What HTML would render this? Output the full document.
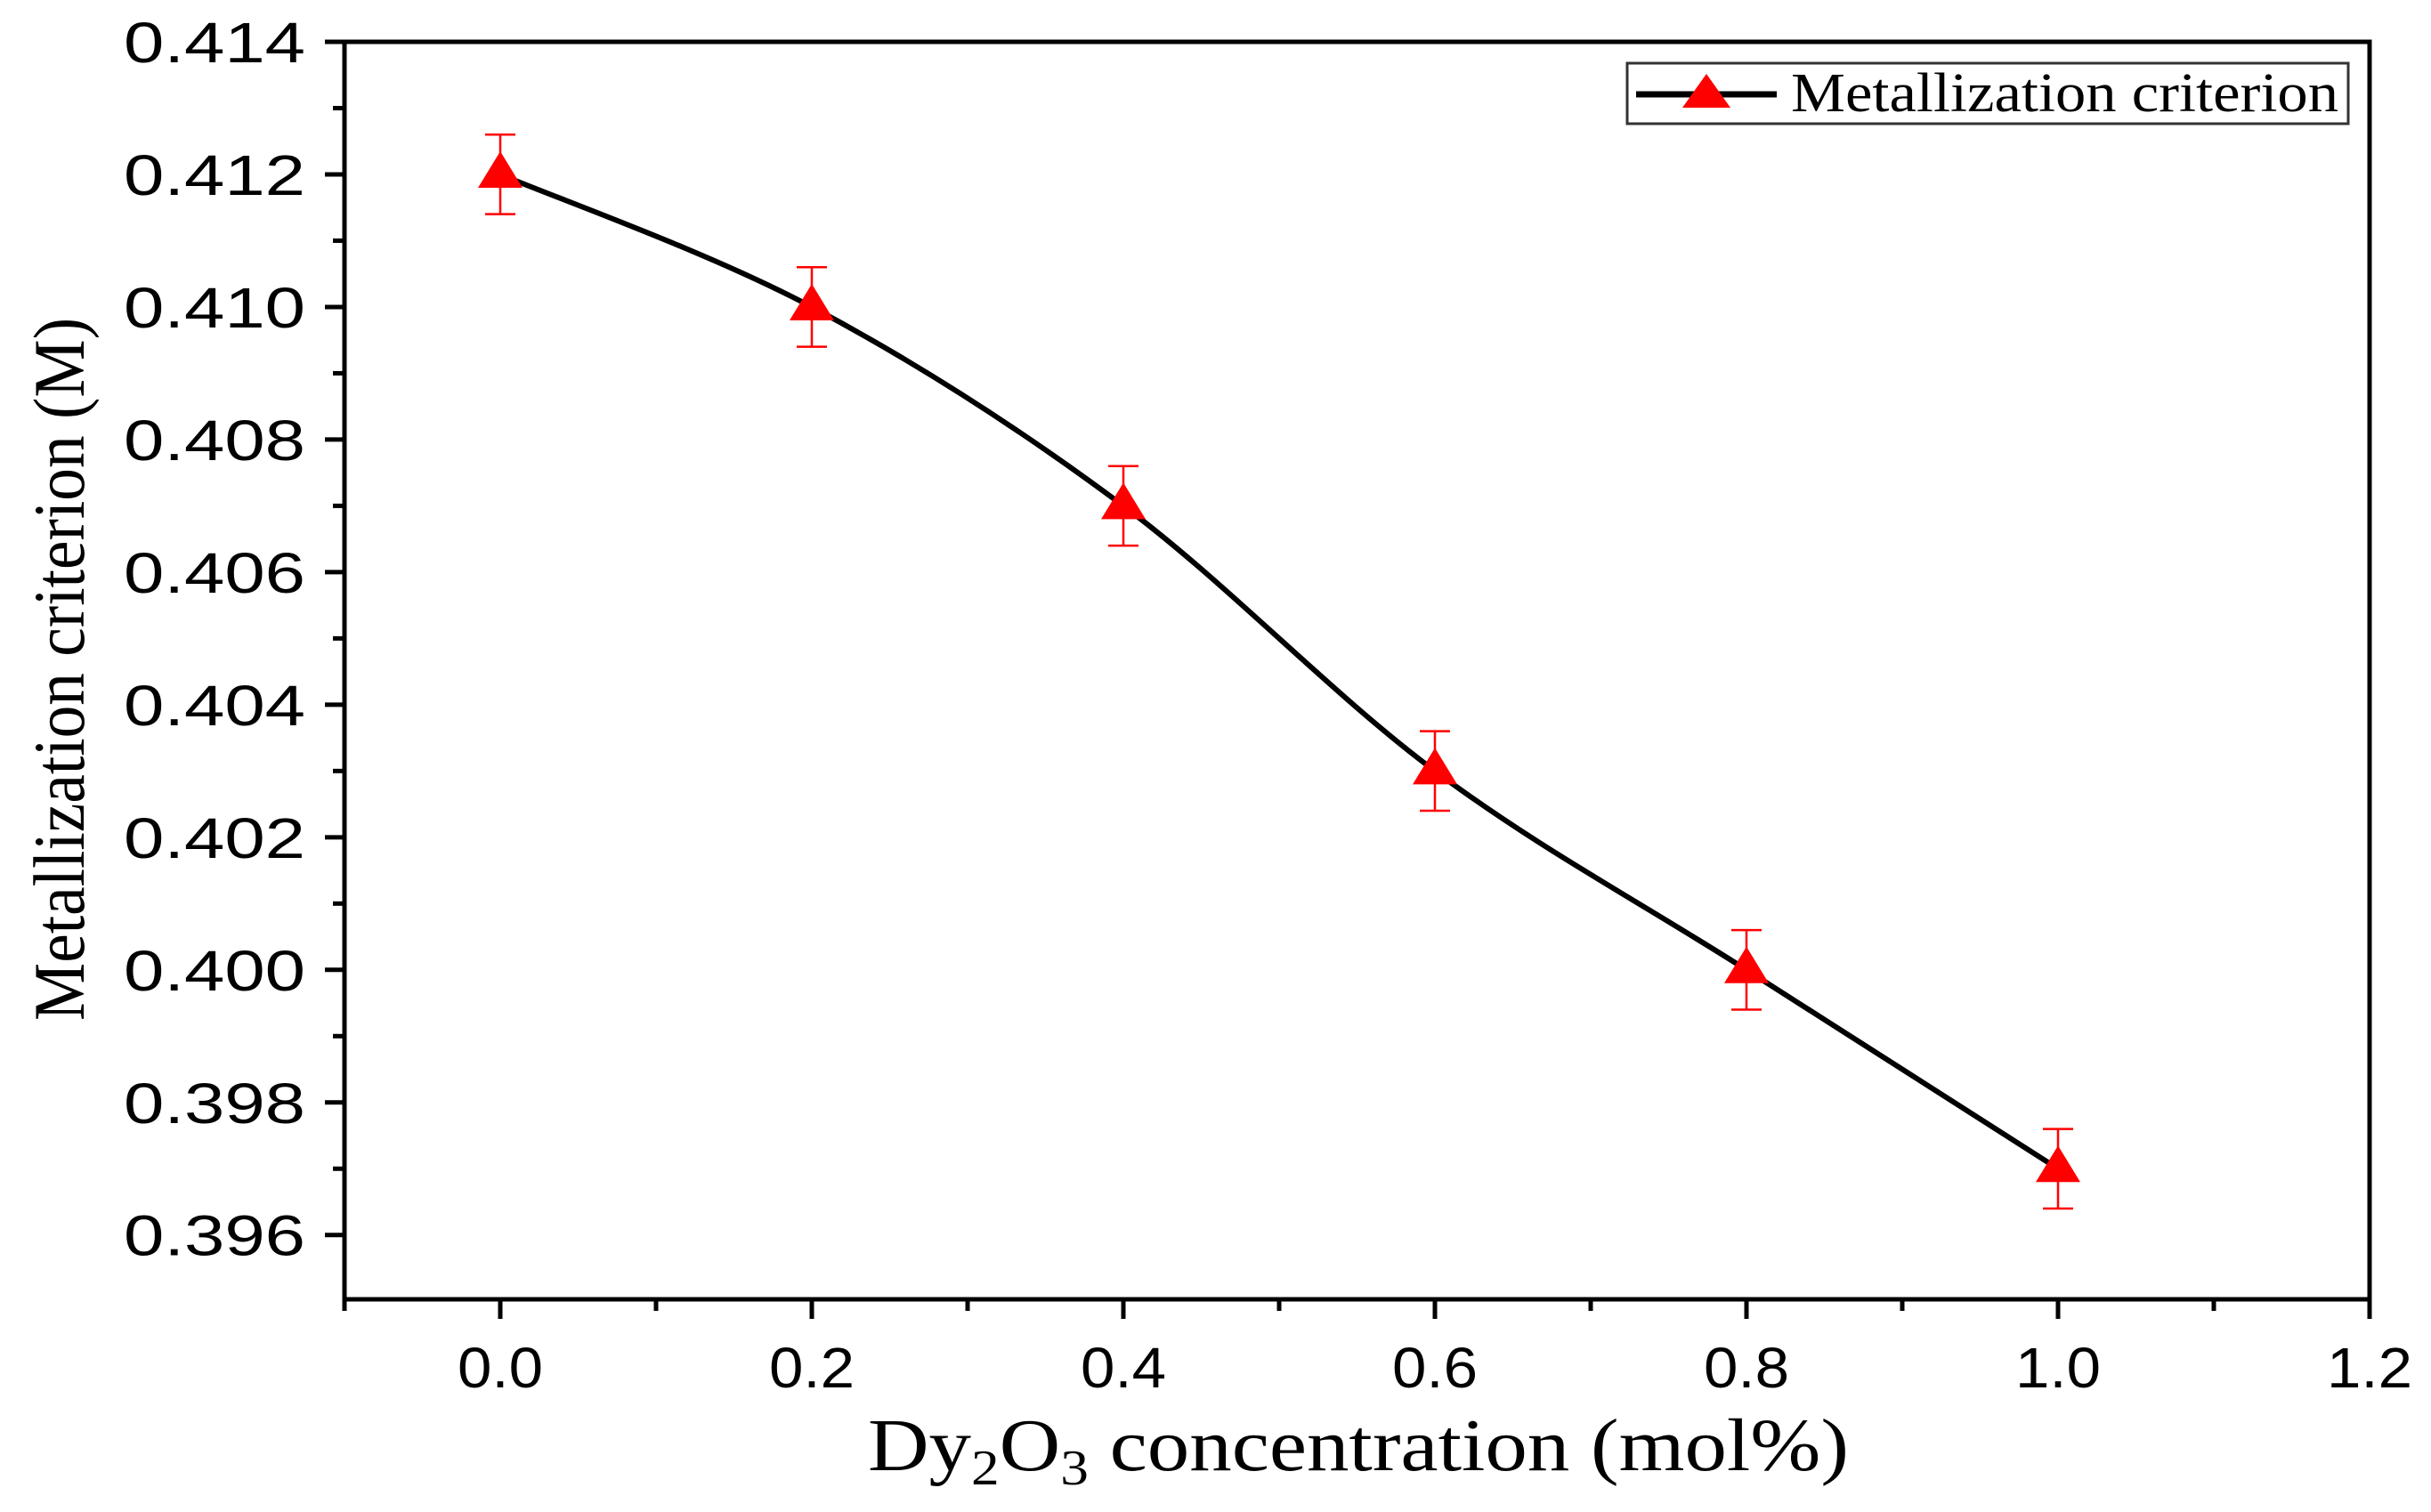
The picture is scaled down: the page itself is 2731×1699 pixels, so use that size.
<!DOCTYPE html>
<html><head><meta charset="utf-8"><style>
body{margin:0;background:#fff}
svg{display:block}
</style></head><body>
<svg id="chart" width="2731" height="1699" xmlns="http://www.w3.org/2000/svg">
<g id="axes"></g>
<g id="series"></g>
<text transform="translate(94,752) rotate(-90)" text-anchor="middle" font-family="Liberation Serif, serif" font-size="82" textLength="790" lengthAdjust="spacingAndGlyphs">Metallization criterion (M)</text>
<text x="975" y="1652" font-family="Liberation Serif, serif" font-size="84" textLength="1102" lengthAdjust="spacingAndGlyphs">Dy<tspan font-size="56" dy="16">2</tspan><tspan dy="-16">O</tspan><tspan font-size="56" dy="16">3</tspan><tspan dy="-16"> concentration (mol%)</tspan></text>
<g>
<rect x="1828" y="71" width="810" height="68" fill="#fff" stroke="#333" stroke-width="3"/>
<line x1="1838" y1="106" x2="1996" y2="106" stroke="#000" stroke-width="7"/>
<polygon points="1917,83 1944,121 1890,121" fill="#ff0000"/>
<text x="2012" y="125" font-family="Liberation Serif, serif" font-size="62" textLength="615" lengthAdjust="spacingAndGlyphs">Metallization criterion</text>
</g>
</svg>
<script>
const categories = [0.0, 0.2, 0.4, 0.6, 0.8, 1.0];
const values = [0.412, 0.410, 0.407, 0.403, 0.400, 0.397];
const errors = [0.0006, 0.0006, 0.0006, 0.0006, 0.0006, 0.0006];
const xTickLabels = ["0.0","0.2","0.4","0.6","0.8","1.0","1.2"];
const yTickLabels = ["0.396","0.398","0.400","0.402","0.404","0.406","0.408","0.410","0.412","0.414"];

const L=387,R=2662,T=47,B=1460, xmin=-0.1,xmax=1.2,ymin=0.39503,ymax=0.414;
const sx=v=>L+(v-xmin)/(xmax-xmin)*(R-L);
const sy=v=>B-(v-ymin)/(ymax-ymin)*(B-T);
const NS='http://www.w3.org/2000/svg';
function mk(tag,attrs,parent){const e=document.createElementNS(NS,tag);for(const k in attrs)e.setAttribute(k,attrs[k]);parent.appendChild(e);return e;}
const ax=document.getElementById('axes'), sr=document.getElementById('series');

let frame=mk('rect',{x:L,y:T,width:R-L,height:B-T,fill:'none',stroke:'#000','stroke-width':5},ax);



xTickLabels.forEach((t,i)=>{
  const v=parseFloat(t), x=sx(v);
  let tk=mk('line',{x1:x,y1:B,x2:x,y2:B+22,stroke:'#000','stroke-width':5},ax);
  
  
  let lb=mk('text',{x:x-48,y:B+99,'font-family':'Liberation Sans, sans-serif','font-size':64,textLength:96,lengthAdjust:'spacingAndGlyphs'},ax);
  
  
  lb.textContent=t;
  const mv=v-0.1;
  if(mv>=xmin-1e-9){const mx=sx(mv);
    let mt=mk('line',{x1:mx,y1:B,x2:mx,y2:B+13,stroke:'#000','stroke-width':5},ax);
    
    }
});
yTickLabels.forEach(t=>{
  const v=parseFloat(t), y=sy(v);
  let tk=mk('line',{x1:L-22,y1:y,x2:L,y2:y,stroke:'#000','stroke-width':5},ax);
  
  
  let lb=mk('text',{x:L-44-204,y:y+23,'font-family':'Liberation Sans, sans-serif','font-size':64,textLength:204,lengthAdjust:'spacingAndGlyphs'},ax);
  
  
  lb.textContent=t;
  [v-0.001,v+0.001].forEach(mv=>{ if(mv>ymin&&mv<ymax&&(Math.abs(mv-0.413)<1e-9||mv<v)){const my=sy(mv);
    let mt=mk('line',{x1:L-13,y1:my,x2:L,y2:my,stroke:'#000','stroke-width':5},ax);
    
    }});
});

const P=categories.map((c,i)=>[sx(c),sy(values[i])]);
let d='M'+P[0][0]+','+P[0][1];
for(let i=0;i<P.length-1;i++){
  const p0=P[Math.max(i-1,0)],p1=P[i],p2=P[i+1],p3=P[Math.min(i+2,P.length-1)];
  const c1=[p1[0]+(p2[0]-p0[0])/6,p1[1]+(p2[1]-p0[1])/6];
  const c2=[p2[0]-(p3[0]-p1[0])/6,p2[1]-(p3[1]-p1[1])/6];
  d+=' C'+c1+' '+c2+' '+p2;
}
let line=mk('path',{d:d,fill:'none',stroke:'#000','stroke-width':6},sr);



categories.forEach((c,i)=>{
  const x=sx(c),y=sy(values[i]),y1=sy(values[i]+errors[i]),y2=sy(values[i]-errors[i]);
  let eb=mk('path',{d:`M${x},${y1}V${y2}M${x-17},${y1}H${x+17}M${x-17},${y2}H${x+17}`,stroke:'#ff0000','stroke-width':2.5,fill:'none'},sr);
  
  
  let m=mk('polygon',{points:`${x},${y-26} ${x+25},${y+15} ${x-25},${y+15}`,fill:'#ff0000'},sr);
  
  
});
</script>
</body></html>
